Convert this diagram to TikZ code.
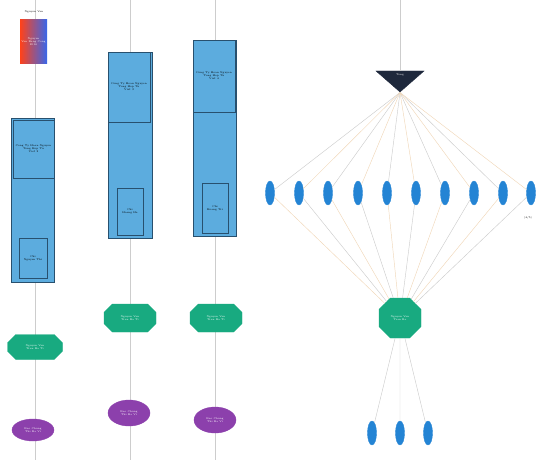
\documentclass[tikz,border=0pt]{standalone}
\usetikzlibrary{shapes.geometric,shapes.misc}
\definecolor{rblue}{RGB}{92,172,222}
\definecolor{rborder}{RGB}{40,80,110}
\definecolor{rgreen}{RGB}{24,170,128}
\definecolor{rpurple}{RGB}{140,64,172}
\definecolor{rell}{RGB}{36,132,212}
\definecolor{rline}{RGB}{205,205,205}
\definecolor{rorange}{RGB}{240,215,185}
\definecolor{rdark}{RGB}{30,40,60}
\begin{document}
\begin{tikzpicture}[x=1pt,y=-1pt,
  tiny/.style={font=\fontsize{2.6}{3}\selectfont,align=center},
  life/.style={draw=rline,line width=0.7pt},
  bigbox/.style={draw=rborder,fill=rblue,line width=0.6pt,inner sep=0pt},
  subbox/.style={draw=rborder,line width=0.5pt,inner sep=0pt,tiny},
  grn/.style={chamfered rectangle,chamfered rectangle xsep=8pt,chamfered rectangle ysep=6pt,fill=rgreen,draw=rgreen,text=white,tiny,inner sep=0pt},
  pur/.style={ellipse,fill=rpurple,draw=rpurple,text=white,tiny,inner sep=0pt},
  bell/.style={ellipse,fill=rell,draw=rell,minimum width=9pt,minimum height=24pt,inner sep=0pt},
  fan/.style={draw=rline,line width=0.45pt},
  fano/.style={draw=rorange,line width=0.45pt}]
\useasboundingbox (0,0) rectangle (537,460);
% column 1
\coordinate (t1) at (35,0); \coordinate (b1) at (35,460);
\draw[life] (t1) -- (b1);
\node[tiny] (lab1) at (34,12) {Nguyen Van};
\node[minimum width=27pt,minimum height=43pt,inner sep=0pt,left color=red!65!orange!90!white,right color=rblue!60!blue,draw=none,tiny,text=white] (g1) at (33.5,41.5) {Nguyen\\Van Bang Cong\\2016};
\node[bigbox,minimum width=43pt,minimum height=164pt] (B1) at (32.5,200) {};
\node[subbox,minimum width=41pt,minimum height=58pt] (s1a) at (33.5,149) {Cong Ty Hoan Nguyen\\Tong Hop Tu\\Viet 2};
\node[subbox,minimum width=28pt,minimum height=40pt] (s1b) at (33,258) {Chi\\Nguyen Thi};
\node[grn,minimum width=55pt,minimum height=25pt] (G1) at (35,347) {Nguyen Van\\Tran Ba Ti};
\node[pur,minimum width=42pt,minimum height=22pt] (P1) at (33,430) {Bao Chung\\Thi Ba Vi};
% column 2
\coordinate (t2) at (130,0); \coordinate (b2) at (130,460);
\draw[life] (t2) -- (b2);
\node[bigbox,minimum width=44pt,minimum height=186pt] (B2) at (130,145) {};
\node[subbox,minimum width=42pt,minimum height=70pt] (s2a) at (129,87) {Cong Ty Hoan Nguyen\\Tong Hop Tu\\Viet 3};
\node[subbox,minimum width=26pt,minimum height=47pt] (s2b) at (130,211.5) {Chi\\Hoang Ha};
\node[grn,minimum width=52pt,minimum height=28pt] (G2) at (130,318) {Nguyen Van\\Tran Ba Ti};
\node[pur,minimum width=42pt,minimum height=26pt] (P2) at (129,413) {Bao Chung\\Thi Ba Vi};
% column 3
\coordinate (t3) at (215,0); \coordinate (b3) at (215,460);
\draw[life] (t3) -- (b3);
\node[bigbox,minimum width=43pt,minimum height=196pt] (B3) at (214.5,138) {};
\node[subbox,minimum width=42pt,minimum height=72pt] (s3a) at (214,76) {Cong Ty Hoan Nguyen\\Tong Hop Tu\\Viet 4};
\node[subbox,minimum width=26pt,minimum height=50pt] (s3b) at (215,208) {Chi\\Hoang Tri};
\node[grn,minimum width=52pt,minimum height=28pt] (G3) at (216,318) {Nguyen Van\\Tran Ba Ti};
\node[pur,minimum width=42pt,minimum height=26pt] (P3) at (215,420) {Bao Chung\\Thi Ba Vi};
% right network
\coordinate (t4) at (400,0);
\node[isosceles triangle,isosceles triangle stretches,shape border rotate=-90,fill=rdark,draw=rdark,minimum height=21pt,minimum width=48pt,inner sep=0pt] (T) at (400,80) {};
\node[tiny,text=white] at (400,75) {Tong};
\draw[fan] (t4) -- (T);
\node[grn,minimum width=42pt,minimum height=40pt,chamfered rectangle xsep=9pt,chamfered rectangle ysep=9pt] (GC) at (400,318) {Nguyen Van\\Tran Ba};
\foreach \i/\x in {1/270,2/299,3/328,4/358,5/387,6/416,7/445,8/474,9/503,10/531}{
  \node[bell] (e\i) at (\x,193) {};
}
\foreach \i in {1,3,5,7,9}{ \draw[fan] (T.apex) -- (e\i); \draw[fano] (e\i) -- (GC); }
\foreach \i in {2,4,6,8,10}{ \draw[fano] (T.apex) -- (e\i); \draw[fan] (e\i) -- (GC); }
\node[tiny] (lbl) at (528,218) {(4/5)};
\foreach \i/\x in {1/372,2/400,3/428}{
  \node[bell] (f\i) at (\x,433) {};
  \draw[fan] (GC) -- (f\i);
}
\end{tikzpicture}
\end{document}
